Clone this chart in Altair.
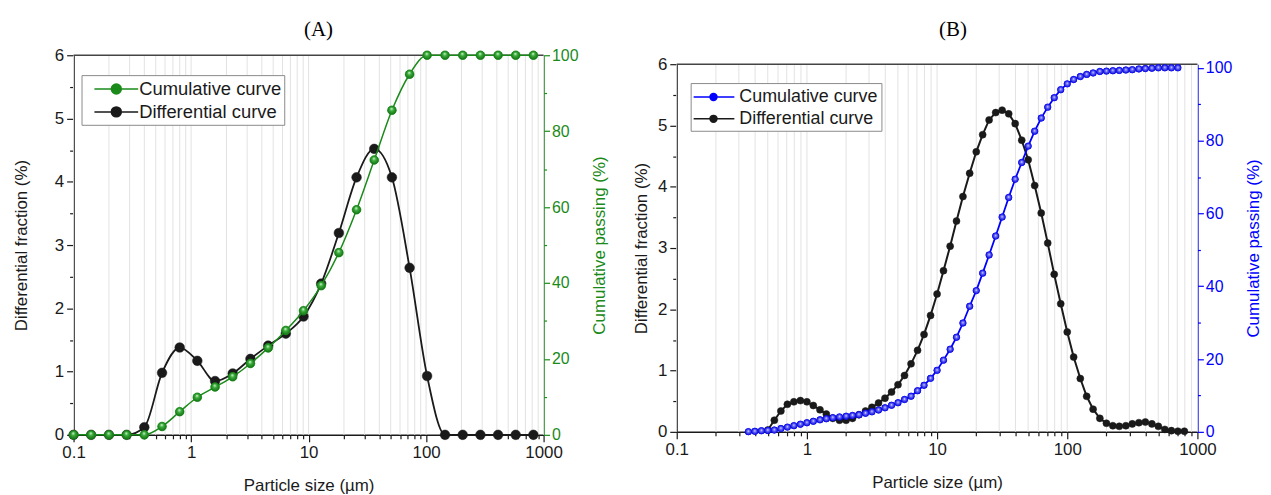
import altair as alt
import pandas as pd

# ---------------- data: panel (A) ----------------
A_SIZE = [0.1, 0.141, 0.2, 0.283, 0.4, 0.566, 0.8, 1.13, 1.6, 2.26, 3.2, 4.53, 6.4, 9.05,
          12.8, 18.1, 25.6, 36.2, 51.2, 72.4, 102, 145, 205, 290, 410, 579, 819]
A_DIFF = [0, 0, 0, 0, 0.12, 0.98, 1.38, 1.17, 0.85, 0.97, 1.2, 1.41, 1.6, 1.87,
          2.39, 3.19, 4.07, 4.52, 4.07, 2.64, 0.93, 0, 0, 0, 0, 0, 0]
A_CUM = [0, 0, 0, 0, 0, 2.2, 6.1, 9.9, 12.6, 15.3, 18.8, 22.9, 27.5, 32.7,
         39.3, 48.0, 59.3, 72.4, 85.5, 95.0, 100, 100, 100, 100, 100, 100, 100]

# ---------------- data: panel (B) ----------------
B_SIZE = [0.355, 0.398, 0.447, 0.501, 0.562, 0.631, 0.708, 0.794, 0.891, 1.0,
          1.12, 1.26, 1.41, 1.58, 1.78, 2.0, 2.24, 2.51, 2.82, 3.16,
          3.55, 3.98, 4.47, 5.01, 5.62, 6.31, 7.08, 7.94, 8.91, 10.0,
          11.2, 12.6, 14.1, 15.8, 17.8, 20.0, 22.4, 25.1, 28.2, 31.6,
          35.5, 39.8, 44.7, 50.1, 56.2, 63.1, 70.8, 79.4, 89.1, 100,
          112, 126, 141, 158, 178, 200, 224, 251, 282, 316,
          355, 398, 447, 501, 562, 631, 708, 794]
B_DIFF = [None, None, None, 0.03, 0.19, 0.34, 0.45, 0.49, 0.51, 0.49,
          0.43, 0.36, 0.29, 0.22, 0.19, 0.19, 0.22, 0.28, 0.34, 0.40,
          0.47, 0.55, 0.65, 0.77, 0.92, 1.11, 1.33, 1.59, 1.90, 2.25,
          2.63, 3.03, 3.44, 3.84, 4.22, 4.57, 4.85, 5.09, 5.21, 5.25,
          5.19, 5.03, 4.76, 4.44, 4.02, 3.57, 3.08, 2.57, 2.09, 1.63,
          1.22, 0.87, 0.58, 0.37, 0.22, 0.14, 0.10, 0.09, 0.10, 0.13,
          0.15, 0.16, 0.13, 0.09, 0.04, 0.02, 0.01, 0.01]
B_CUM = [0.05, 0.15, 0.3, 0.4, 0.5, 0.9, 1.3, 1.7, 2.1, 2.5,
         2.9, 3.3, 3.6, 3.9, 4.1, 4.3, 4.5, 4.7, 5.1, 5.5,
         6.0, 6.6, 7.3, 8.0, 8.9, 9.8, 11.3, 12.8, 14.7, 16.9,
         19.7, 22.7, 26.0, 29.9, 34.5, 38.8, 43.6, 48.6, 53.8, 59.0,
         64.4, 69.4, 74.0, 78.5, 82.6, 86.2, 89.2, 91.8, 94.0, 95.6,
         96.8, 97.6, 98.2, 98.6, 99.0, 99.1, 99.2, 99.3, 99.4, 99.5,
         99.7, 99.8, 99.9, 100, 100, 100, 100, None]

SERIES = ["Cumulative curve", "Differential curve"]
DECADES = [0.1, 1, 10, 100]
MULTS = [1, 2, 3, 4, 5, 6, 7, 8, 9]
X_TICKS = [round(d * m, 6) for d in DECADES for m in MULTS] + [1000]
LEFT_TICKS = [0, 0.5, 1, 1.5, 2, 2.5, 3, 3.5, 4, 4.5, 5, 5.5, 6]
RIGHT_TICKS = [0, 10, 20, 30, 40, 50, 60, 70, 80, 90, 100]

FONT = "Liberation Sans"
INK = "#1a1a1a"
GREEN = "#1a8a1a"
BLUE = "#0000ff"
GRID = "#e2e2e2"
FRAME = "#444444"

DEC_TEST = "abs(log(datum.value)/LN10 - round(log(datum.value)/LN10)) < 0.001"


def panel(size, diff, cum, ccol, grad, title, w, h, top, cmax, leg, psd, psc,
          lwd, lwc, interp, toff, tdx, ltp, rtp):
    dfd = pd.DataFrame({"size": size, "v": diff}).dropna()
    dfd["series"] = SERIES[1]
    dfc = pd.DataFrame({"size": size, "v": cum}).dropna()
    dfc["series"] = SERIES[0]
    dft = pd.DataFrame({"t": X_TICKS})

    xs = alt.Scale(type="log", domain=[0.1, 1000], nice=False)
    xaxis = alt.Axis(values=X_TICKS, format="~g",
                     labelExpr="(datum.value==0.1||datum.value==1||datum.value==10||"
                               "datum.value==100||datum.value==1000) ? datum.label : ''",
                     grid=False, tickColor=INK, tickWidth=1.2,
                     tickSize={"condition": {"test": DEC_TEST, "value": 7}, "value": 4},
                     domainColor=INK, domainWidth=1.5,
                     labelFont=FONT, labelFontSize=17, labelColor=INK, labelPadding=3,
                     labelOverlap=False, labelFlush=False, labelBound=False,
                     title="Particle size (µm)", titleFont=FONT, titleFontSize=17,
                     titleFontWeight="normal", titleColor=INK, titlePadding=17)

    ly = alt.Y("v:Q", scale=alt.Scale(domain=[0, 6], range=[h, top], nice=False, zero=True),
               axis=alt.Axis(values=LEFT_TICKS, format="~g",
                             labelExpr="datum.value % 1 == 0 ? datum.label : ''",
                             tickSize={"condition": {"test": "datum.value % 1 == 0", "value": 7},
                                       "value": 4},
                             tickColor=INK, tickWidth=1.2, grid=False,
                             domainColor=INK, domainWidth=1.5,
                             labelFont=FONT, labelFontSize=17, labelColor=INK, labelPadding=3,
                             labelOverlap=False,
                             title="Differential fraction (%)", titleFont=FONT,
                             titleFontSize=17, titleFontWeight="normal", titleColor=INK,
                             titlePadding=ltp))
    ry = alt.Y("v:Q", scale=alt.Scale(domain=[0, cmax], range=[h, top], nice=False, zero=True),
               axis=alt.Axis(orient="right", values=RIGHT_TICKS, format="d",
                             labelExpr="datum.value % 20 == 0 ? datum.label : ''",
                             tickSize={"condition": {"test": "datum.value % 20 == 0", "value": 6},
                                       "value": 3},
                             tickColor=ccol, tickWidth=1.2, grid=False,
                             domainColor=ccol, domainWidth=1.5,
                             labelFont=FONT, labelFontSize=16, labelColor=ccol, labelPadding=2,
                             labelOverlap=False,
                             title="Cumulative passing (%)", titleFont=FONT,
                             titleFontSize=17, titleFontWeight="normal", titleColor=ccol,
                             titleAngle=270, titleBaseline="top", titlePadding=rtp))

    legend = alt.Legend(orient="none", legendX=leg["x"], legendY=leg["y"], title=None,
                        symbolType=leg["path"], symbolSize=400, symbolStrokeWidth=1.5,
                        symbolOpacity=1, labelFont=FONT, labelFontSize=leg["fs"],
                        labelColor=INK, labelOffset=leg["off"], padding=leg["pad"],
                        rowPadding=leg["row"], strokeColor="#8a8a8a", fillColor="white",
                        labelExpr=leg["expr"], labelLimit=400)
    cscale = alt.Scale(domain=SERIES, range=[ccol, INK])
    fill_enc = alt.Fill("series:N", scale=cscale, legend=legend)
    stroke_enc = alt.Stroke("series:N", scale=cscale, legend=legend)

    left = alt.layer(
        alt.Chart(dft).mark_rule(color=GRID, strokeWidth=1).encode(
            x=alt.X("t:Q", scale=xs, axis=xaxis), y=alt.value(top), y2=alt.value(h)),
        alt.Chart(dft.head(1)).mark_rule(color=FRAME, strokeWidth=1.5).encode(
            x=alt.value(0), x2=alt.value(w), y=alt.value(top)),
        alt.Chart(dfd).mark_line(color=INK, strokeWidth=lwd, interpolate=interp).encode(
            x=alt.X("size:Q", scale=xs, axis=xaxis), y=ly),
        alt.Chart(dfd).mark_point(filled=True, shape="circle", size=psd, opacity=1,
                                  strokeWidth=0.5).encode(
            x=alt.X("size:Q", scale=xs, axis=xaxis), y=ly, fill=fill_enc, stroke=stroke_enc),
    )
    right = alt.layer(
        alt.Chart(dfc).mark_line(color=ccol, strokeWidth=lwc, interpolate=interp).encode(
            x=alt.X("size:Q", scale=xs, axis=None), y=ry),
        alt.Chart(dfc).mark_point(filled=True, shape="circle", size=psc, opacity=1,
                                  strokeWidth=0.5).encode(
            x=alt.X("size:Q", scale=xs, axis=None), y=ry, fill=fill_enc, stroke=stroke_enc),
        alt.Chart(dfc).mark_point(filled=True, shape="circle", size=psc, opacity=1,
                                  fill=grad, stroke=ccol, strokeWidth=0.4).encode(
            x=alt.X("size:Q", scale=xs, axis=None), y=ry),
    )
    return alt.layer(left, right).resolve_scale(y="independent").resolve_axis(
        x="independent", y="independent").properties(
        width=w, height=h,
        title=alt.TitleParams(text=title, font="Liberation Serif", fontSize=21,
                              fontWeight="normal", color="black", anchor="middle",
                              frame="group", offset=toff, dx=tdx))


grad_green = alt.RadialGradient(
    gradient="radial", x1=0.45, y1=0.3, r1=0, x2=0.5, y2=0.5, r2=0.6,
    stops=[alt.GradientStop(offset=0, color="#eaffea"),
           alt.GradientStop(offset=0.35, color="#3cae3c"),
           alt.GradientStop(offset=1, color="#0b640b")])
grad_blue = alt.RadialGradient(
    gradient="radial", x1=0.5, y1=0.42, r1=0, x2=0.5, y2=0.5, r2=0.6,
    stops=[alt.GradientStop(offset=0, color="#ffffff"),
           alt.GradientStop(offset=0.3, color="#6a6aff"),
           alt.GradientStop(offset=1, color="#0000c0")])

leg_a = {"x": 8, "y": 20, "fs": 18.5, "off": 33, "pad": 3, "row": 2,
         "expr": "datum.label + '\u2007\u2007\u2007\u2007'",
         "path": "M-0.1,0H4.3M2.6,0A0.5,0.5,0,1,1,1.6,0A0.5,0.5,0,1,1,2.6,0Z"}
leg_b = {"x": 14, "y": 28, "fs": 18, "off": 24, "pad": 3, "row": 2,
         "expr": "datum.label",
         "path": "M-1.1,0H3.0M1.25,0A0.35,0.35,0,1,1,0.55,0A0.35,0.35,0,1,1,1.25,0Z"}

pa = panel(A_SIZE, A_DIFF, A_CUM, GREEN, grad_green, "(A)", 473, 382, 0, 100, leg_a,
           95, 75, 1.8, 1.5, "monotone", 6, 10, 24, 14)
pb = panel(B_SIZE, B_DIFF, B_CUM, BLUE, grad_blue, "(B)", 524, 379, 9, 101, leg_b,
           50, 42, 2.0, 1.8, "linear", 15, 16, 7, 14)

chart = alt.ConcatChart(concat=[pa, pb], columns=2, spacing=23, align="none").resolve_scale(
    x="independent", y="independent", fill="independent", stroke="independent"
).resolve_legend(fill="independent", stroke="independent").properties(
    padding={"left": 4, "top": 9, "right": 0, "bottom": 0}
).configure_view(stroke="transparent")

chart.save("out.html", embed_options={"renderer": "svg", "actions": False})
